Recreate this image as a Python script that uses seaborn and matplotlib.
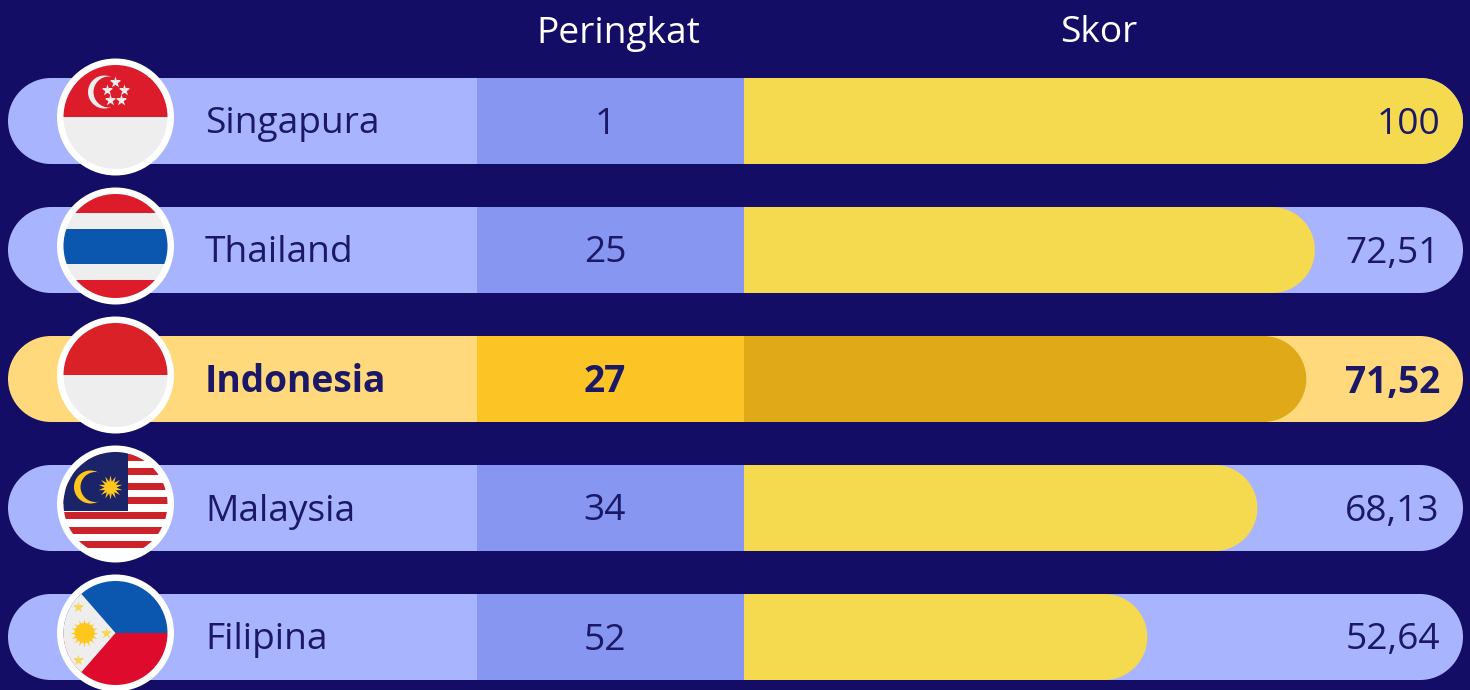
import pandas as pd
import matplotlib
matplotlib.use("Agg")
import matplotlib.pyplot as plt
import seaborn as sns
from matplotlib.patches import Circle, PathPatch, Polygon, Rectangle
from matplotlib.path import Path

# =========================
# data
# =========================
countries = ["Singapura", "Thailand", "Indonesia", "Malaysia", "Filipina"]
ranks = [1, 25, 27, 34, 52]
score_labels = ["100", "72,51", "71,52", "68,13", "52,64"]
# length of the yellow bars as drawn, % of the score column
bar_lengths = [100, 79.4, 78.2, 71.4, 56.1]
highlight = "Indonesia"

# =========================
# style
# =========================
BG = "#130D66"
TRACK = "#A9B4FE"
RANK_BAND = "#8796F1"
BAR = "#F5D94E"
TRACK_HI = "#FFD97C"
RANK_HI = "#FCC425"
BAR_HI = "#E0A918"
INK = "#1B1868"
LIGHT = "#EEEEEE"
RED = "#DD1C2B"
BLUE = "#0B57B0"
SUN = "#FFC61E"

W, H = 1470, 690
ROW0, STEP, HALF = 121, 129, 43
TRACK_L, BAND_L, BAND_R, TRACK_R = 8, 477, 744, 1463
K = 0.5523
FONT_SIZE = 26.7

sns.set_theme(style="white")
plt.rcParams["font.family"] = ["Open Sans", "DejaVu Sans"]


def pill_path(x0, x1, y0, y1, rx, ry, left=True):
    ym = (y0 + y1) / 2
    sign = 1 if y1 > y0 else -1
    verts = [(x1 - rx, y0),
             (x1 - rx + K * rx, y0), (x1, ym - K * ry * sign), (x1, ym),
             (x1, ym + K * ry * sign), (x1 - rx + K * rx, y1), (x1 - rx, y1)]
    codes = [Path.MOVETO] + [Path.CURVE4] * 6
    if left:
        verts += [(x0 + rx, y1),
                  (x0 + rx - K * rx, y1), (x0, ym + K * ry * sign), (x0, ym),
                  (x0, ym - K * ry * sign), (x0 + rx - K * rx, y0), (x0 + rx, y0)]
        codes += [Path.LINETO] + [Path.CURVE4] * 6
    else:
        verts += [(x0, y1), (x0, y0)]
        codes += [Path.LINETO, Path.LINETO]
    verts.append(verts[0])
    codes.append(Path.CLOSEPOLY)
    return Path(verts, codes)


def full_axes(fig, zorder):
    ax = fig.add_axes([0, 0, 1, 1], zorder=zorder)
    ax.set_xlim(0, W)
    ax.set_ylim(H, 0)
    ax.axis("off")
    ax.patch.set_alpha(0)
    return ax


# =========================
# flags
# =========================
def draw_flag(ax, name, cx, cy):
    ax.add_patch(Circle((cx, cy), 58.5, fc="white", ec="none", zorder=3))
    clip = Circle((cx, cy), 52, transform=ax.transData)
    items = []

    def rect(x0, y0, x1, y1, color):
        items.append(ax.add_patch(Rectangle((x0, y0), x1 - x0, y1 - y0, fc=color, ec="none", zorder=4)))

    def disc(x, y, r, color):
        items.append(ax.add_patch(Circle((x, y), r, fc=color, ec="none", zorder=4)))

    def marks(xs, ys, marker, size, color):
        items.append(ax.scatter(xs, ys, marker=marker, s=size, c=color, linewidths=0, zorder=4))

    l, r = cx - 60, cx + 60
    t, b = cy - 60, cy + 60
    if name == "Singapura":
        rect(l, t, r, cy, RED)
        rect(l, cy, r, b, LIGHT)
        disc(cx - 11, cy - 25, 16.5, LIGHT)
        disc(cx - 6.5, cy - 25, 15.5, RED)
        marks([cx, cx - 8, cx + 9, cx - 5, cx + 6], [cy - 35, cy - 27, cy - 27, cy - 17, cy - 17], "*", 75, LIGHT)
    elif name == "Thailand":
        rect(l, t, r, b, LIGHT)
        rect(l, t, r, cy - 33, RED)
        rect(l, cy + 34, r, b, RED)
        rect(l, cy - 17, r, cy + 18, BLUE)
    elif name == "Indonesia":
        rect(l, t, r, cy, "#DA2128")
        rect(l, cy, r, b, LIGHT)
    elif name == "Malaysia":
        rect(l, t, r, b, "white")
        for off in (-50, -36, -21, -7, 8, 23, 37):
            rect(l, cy + off, r, cy + off + 7, "#CC2229")
        rect(l, t, cx + 13, cy + 7, "#1B2468")
        disc(cx - 25, cy - 17, 16.5, SUN)
        disc(cx - 20, cy - 17, 15, "#1B2468")
        marks([cx - 5], [cy - 17], (14, 1, 0), 300, SUN)
    else:
        rect(l, t, r, cy, BLUE)
        rect(l, cy, r, b, "#DE0B2C")
        items.append(ax.add_patch(Polygon([(cx, cy), (cx - 55, cy - 63), (cx - 70, cy - 63),
                                           (cx - 70, cy + 63), (cx - 55, cy + 63)],
                                          fc=LIGHT, ec="none", zorder=4)))
        disc(cx - 31, cy, 10, SUN)
        marks([cx - 31], [cy], (16, 1, 0), 420, SUN)
        marks([cx - 37, cx - 9, cx - 37], [cy - 26, cy, cy + 27], "*", 70, "#F7D65A")

    for item in items:
        item.set_clip_path(clip)


# =========================
# chart
# =========================
def make_chart():
    df = pd.DataFrame({"country": countries, "length": bar_lengths})
    fig = plt.figure(figsize=(W / 100, H / 100), dpi=100, facecolor=BG)

    base = full_axes(fig, 1)
    top = full_axes(fig, 3)

    score_ax = fig.add_axes([BAND_R / W, 0, (TRACK_R - BAND_R) / W, 1], zorder=2)
    palette = [BAR_HI if c == highlight else BAR for c in countries]
    sns.barplot(data=df, x="length", y="country", hue="country", palette=palette,
                saturation=1, width=2 * HALF / STEP, legend=False, ax=score_ax)
    score_ax.set_xlim(0, 100)
    score_ax.set_ylim((H - ROW0) / STEP, -ROW0 / STEP)
    score_ax.axis("off")
    score_ax.patch.set_alpha(0)

    # seaborn bars become the rounded shape
    rx = HALF * 100 / (TRACK_R - BAND_R)
    for bar in list(score_ax.patches):
        x0, y0, w, h = bar.get_x(), bar.get_y(), bar.get_width(), bar.get_height()
        if w == 0:
            continue
        score_ax.add_patch(PathPatch(pill_path(x0, x0 + w, y0, y0 + h, rx, h / 2, left=False),
                                     fc=bar.get_facecolor(), ec="none"))
        bar.set_visible(False)

    for i, name in enumerate(countries):
        y = ROW0 + i * STEP
        hi = name == highlight
        base.add_patch(PathPatch(pill_path(TRACK_L, TRACK_R, y - HALF, y + HALF, HALF, HALF),
                                 fc=TRACK_HI if hi else TRACK, ec="none"))
        base.add_patch(Rectangle((BAND_L, y - HALF), BAND_R - BAND_L, 2 * HALF,
                                 fc=RANK_HI if hi else RANK_BAND, ec="none"))

        weight = "bold" if hi else "normal"
        top.text(205, y - 1, name, color=INK, fontsize=FONT_SIZE, fontweight=weight, ha="left", va="center_baseline")
        top.text(605, y - 1, str(ranks[i]), color=INK, fontsize=FONT_SIZE, fontweight=weight, ha="center", va="center_baseline")
        top.text(1440, y - 1, score_labels[i], color=INK, fontsize=FONT_SIZE, fontweight=weight, ha="right", va="center_baseline")
        draw_flag(top, name, 115.5, y - 4)

    top.text(618, 29, "Peringkat", color="white", fontsize=FONT_SIZE, ha="center", va="center_baseline")
    top.text(1099, 29, "Skor", color="white", fontsize=FONT_SIZE, ha="center", va="center_baseline")

    fig.savefig("out.png", dpi=100, facecolor=BG)


if __name__ == "__main__":
    make_chart()
